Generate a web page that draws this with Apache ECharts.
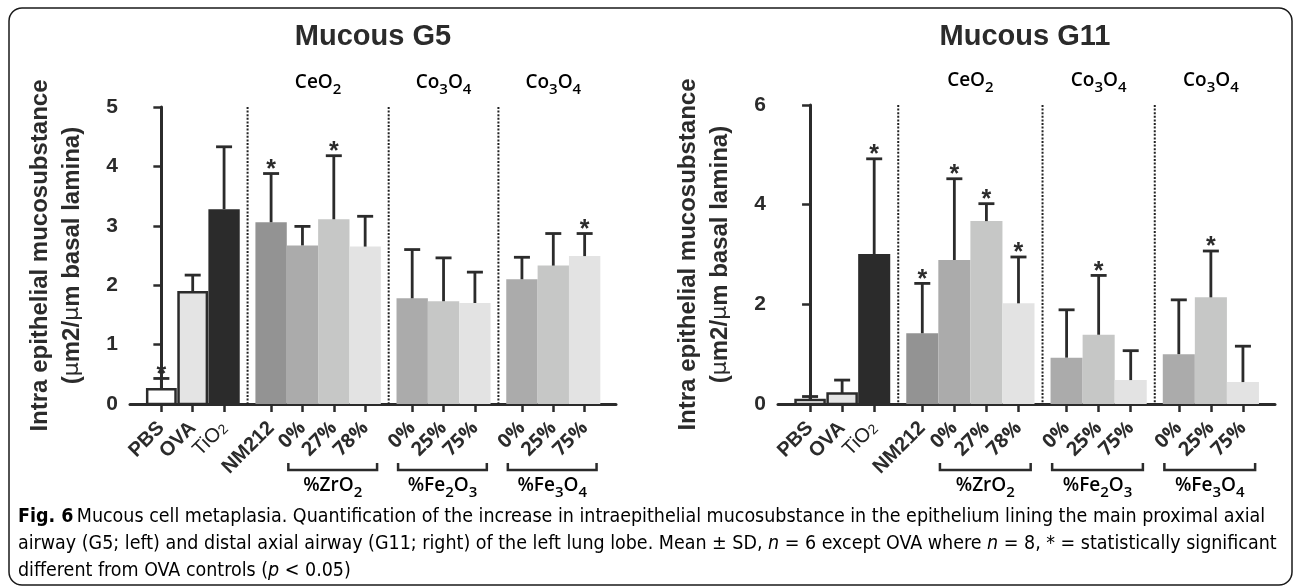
<!DOCTYPE html>
<html><head><meta charset="utf-8">
<script src="https://cdn.jsdelivr.net/npm/echarts@6/dist/echarts.min.js"></script>
<style>html,body{margin:0;padding:0;background:#fff}#c{width:1295px;height:588px}</style>
</head><body><div id="c"></div>
<script>
// ---------------- data ----------------
const labels = ['PBS','OVA','TiO2','NM212','0%','27%','78%','0%','25%','75%','0%','25%','75%'];
const groupSizes = [3, 4, 3, 3];
const groupTop = ['', 'CeO2', 'Co3O4', 'Co3O4'];
const brackets = [ {label:'%ZrO2', from:4, to:6}, {label:'%Fe2O3', from:7, to:9}, {label:'%Fe3O4', from:10, to:12} ];
const g5Mean  = [0.25, 1.88, 3.28, 3.06, 2.67, 3.11, 2.65, 1.78, 1.73, 1.70, 2.10, 2.33, 2.49];
const g5SD    = [0.18, 0.29, 1.05, 0.82, 0.32, 1.07, 0.51, 0.82, 0.73, 0.52, 0.37, 0.54, 0.38];
const g5Star  = [1,0,0,1,0,1,0,0,0,0,0,0,1];
const g11Mean = [0.08, 0.21, 3.01, 1.42, 2.89, 3.67, 2.02, 0.93, 1.39, 0.48, 1.00, 2.14, 0.44];
const g11SD   = [0.07, 0.27, 1.91, 1.00, 1.63, 0.35, 0.93, 0.96, 1.19, 0.59, 1.09, 0.93, 0.72];
const g11Star = [0,0,1,1,1,1,1,0,1,0,0,1,0];
const g5Ticks = [0, 1, 2, 3, 4, 5];
const g11Ticks = [0, 2, 4, 6];
// ---------------- styles ----------------
const fills = ['#ffffff','#e4e4e4','#2b2b2b','#939393','#ababab','#c6c7c6','#e3e3e3','#ababab','#c6c7c6','#e3e3e3','#ababab','#c6c7c6','#e3e3e3'];
const outlined = [1,1,0,0,0,0,0,0,0,0,0,0,0];
const DARK = '#2b2b2b';

// layout derived from group structure: half-slot gap between groups
const positions = [];
const groupCenters = [];
const separators = [];
(function(){
  let k = 0;
  groupSizes.forEach((n, g) => {
    const ps = [];
    for (let j = 0; j < n; j++) { ps.push(k + 0.5 * g); k++; }
    positions.push(...ps);
    groupCenters.push((ps[0] + ps[ps.length-1]) / 2);
    if (g < groupSizes.length - 1) separators.push(ps[ps.length-1] + 0.75);
  });
})();

function chem(str, m, s) {
  return str.replace(/(\d+)|(\D+)/g, (all, d, t) => d ? '{' + s + '|' + d + '}' : '{' + m + '|' + t + '}');
}
function xLabel(v) {
  let i = positions.findIndex(p => Math.abs(p - v) < 1e-6);
  if (i < 0) return '';
  const l = labels[i];
  if (l === 'TiO2') return '{t|TiO}{ts|2}';
  if (l.endsWith('%')) return '{p|' + l + '}';
  return '{b|' + l + '}';
}
const xRich = {
  b: {fontFamily:'Liberation Sans', fontWeight:'bold', fontSize:20, color:DARK},
  t: {fontFamily:'Liberation Sans', fontWeight:'normal', fontSize:20, color:'#222'},
  ts:{fontFamily:'Liberation Sans', fontWeight:'normal', fontSize:14, color:'#222', verticalAlign:'bottom'},
  p: {fontFamily:'Open Sans', fontWeight:'bold', fontSize:19.5, color:DARK}
};
const chemRich = {
  m: {fontFamily:'Open Sans', fontWeight:600, fontSize:19, color:DARK, lineHeight:28, verticalAlign:'middle'},
  s: {fontFamily:'Open Sans', fontWeight:600, fontSize:15, color:DARK, lineHeight:14, verticalAlign:'bottom'}
};

function barRender(params, api) {
  const x = api.value(0), m = api.value(1), sd = api.value(2), star = api.value(3), i = api.value(4);
  const p0 = api.coord([x - 0.5, 0]);
  const p1 = api.coord([x + 0.5, m]);
  const top = api.coord([x, m + sd]);
  const o = outlined[i];
  const ch = [];
  ch.push({type:'rect', shape:{x:p0[0] + (o?1.5:0), y:p1[1], width:p1[0]-p0[0]-(o?3:0), height:p0[1]-p1[1]},
           style:{fill:fills[i], stroke:o?DARK:null, lineWidth:o?2.5:0}});
  ch.push({type:'line', shape:{x1:top[0], y1:p1[1], x2:top[0], y2:top[1]}, style:{stroke:DARK, lineWidth:2.8}});
  ch.push({type:'line', shape:{x1:top[0]-8, y1:top[1], x2:top[0]+8, y2:top[1]}, style:{stroke:DARK, lineWidth:2.8}});
  if (star) ch.push({type:'text', x:top[0], y:top[1] + 9, style:{text:'*', font:'bold 25px "Liberation Sans"', fill:DARK, align:'center', verticalAlign:'bottom'}});
  return {type:'group', children:ch};
}
function sepRender(params, api) {
  const a = api.coord([api.value(0), api.value(1)]);
  const b = api.coord([api.value(0), 0]);
  return {type:'line', shape:{x1:a[0], y1:a[1], x2:b[0], y2:b[1]}, style:{stroke:'#222', lineWidth:2, lineDash:[2,1.6]}};
}
function annRender(params, api) {
  const g = api.value(0);
  const c = api.coord([api.value(1), 0]);
  const top = api.coord([api.value(1), api.value(4)]);
  const b0 = api.coord([api.value(2), 0]);
  const b1 = api.coord([api.value(3), 0]);
  const y0 = c[1];
  const ch = [];
  ch.push({type:'text', x:c[0], y:top[1] - 24, style:{text:chem(groupTop[g], 'm', 's'), rich:chemRich, align:'center', verticalAlign:'middle'}});
  ch.push({type:'polyline', shape:{points:[[b0[0], y0+59],[b0[0], y0+66],[b1[0], y0+66],[b1[0], y0+59]]}, style:{stroke:DARK, lineWidth:2.5, fill:null}});
  const br = brackets[g-1];
  ch.push({type:'text', x:(b0[0]+b1[0])/2, y:y0+82, style:{text:chem(br.label, 'm', 's'), rich:chemRich, align:'center', verticalAlign:'middle'}});
  return {type:'group', children:ch};
}

function xAxisCfg(gi) {
  return {gridIndex:gi, type:'value', min:-1, max:14.5, splitLine:{show:false},
    axisLine:{show:true, onZero:false, lineStyle:{color:DARK, width:3}},
    axisTick:{show:true, customValues:positions, length:8, lineStyle:{color:DARK, width:2.5}},
    axisLabel:{show:true, customValues:positions, rotate:45, margin:21, hideOverlap:false, formatter:xLabel, rich:xRich,
      color:DARK, fontFamily:'Liberation Sans', fontWeight:'bold', fontSize:20}};
}
const yName = '{n|Intra epithelial mucosubstance}\n{n|(}{u|\u03bc}{n|m2/}{u|\u03bc}{n|m basal lamina)}';
function yAxisCfg(gi, ticks) {
  return {gridIndex:gi, type:'value', min:ticks[0], max:ticks[ticks.length-1], interval:ticks[1]-ticks[0],
    splitLine:{show:false},
    axisLine:{show:true, lineStyle:{color:DARK, width:3}},
    axisTick:{show:true, length:8, lineStyle:{color:DARK, width:2.5}},
    axisLabel:{show:true, margin:12, fontFamily:'Liberation Sans', fontWeight:'bold', fontSize:21, color:DARK},
    name:yName, nameLocation:'middle', nameRotate:90, nameGap:42,
    nameTextStyle:{rich:{n:{fontFamily:'Liberation Sans', fontWeight:'bold', fontSize:24, color:DARK, lineHeight:32},
                         u:{fontFamily:'DejaVu Sans', fontWeight:'normal', fontSize:22, color:DARK, lineHeight:32}}}};
}

const annData = (yMax) => [1,2,3].map(g => {
  const br = brackets[g-1];
  return [g, groupCenters[g], positions[br.from] - 0.45, positions[br.to] + 0.38, yMax];
});

// caption font fitting
const capFamily = '"Liberation Sans Narrow", "DejaVu Sans Condensed", sans-serif';
const cap1 = 'Fig. 6 Mucous cell metaplasia. Quantification of the increase in intraepithelial mucosubstance in the epithelium lining the main proximal axial';
const ctx = document.createElement('canvas').getContext('2d');
ctx.font = '18px ' + capFamily;
let capSize = 18 * 1242 / ctx.measureText(cap1).width;
capSize = Math.max(13, Math.min(22, capSize));
const capRich = {
  r: {fontFamily:capFamily, fontSize:capSize, color:'#3a3a3a'},
  b: {fontFamily:capFamily, fontSize:capSize, fontWeight:'bold', color:'#222'},
  i: {fontFamily:capFamily, fontSize:capSize, fontStyle:'italic', color:'#3a3a3a'}
};

const chart = echarts.init(document.getElementById('c'), null, {renderer:'canvas'});
chart.setOption({
  animation:false,
  backgroundColor:'#fff',
  grid:[{left:130, right:679, top:107, bottom:184}, {left:778, right:20, top:105, bottom:184}],
  xAxis:[xAxisCfg(0), xAxisCfg(1)],
  yAxis:[yAxisCfg(0, g5Ticks), yAxisCfg(1, g11Ticks)],
  series:[
    {type:'custom', xAxisIndex:0, yAxisIndex:0, clip:false, renderItem:sepRender, data:separators.map(s => [s, g5Ticks[g5Ticks.length-1]])},
    {type:'custom', xAxisIndex:1, yAxisIndex:1, clip:false, renderItem:sepRender, data:separators.map(s => [s, g11Ticks[g11Ticks.length-1]])},
    {type:'custom', xAxisIndex:0, yAxisIndex:0, clip:false, renderItem:barRender, data:labels.map((l,i) => [positions[i], g5Mean[i], g5SD[i], g5Star[i], i])},
    {type:'custom', xAxisIndex:1, yAxisIndex:1, clip:false, renderItem:barRender, data:labels.map((l,i) => [positions[i], g11Mean[i], g11SD[i], g11Star[i], i])},
    {type:'custom', xAxisIndex:0, yAxisIndex:0, clip:false, renderItem:annRender, data:annData(g5Ticks[g5Ticks.length-1])},
    {type:'custom', xAxisIndex:1, yAxisIndex:1, clip:false, renderItem:annRender, data:annData(g11Ticks[g11Ticks.length-1])}
  ],
  graphic:[
    {type:'rect', shape:{x:9, y:8, width:1283, height:577, r:13}, style:{fill:null, stroke:'#1a1a1a', lineWidth:1.5}, z:0},
    {type:'text', x:373, y:37, style:{text:'Mucous G5', font:'bold 29px "Liberation Sans"', fill:DARK, align:'center', verticalAlign:'middle'}},
    {type:'text', x:1025, y:37, style:{text:'Mucous G11', font:'bold 29px "Liberation Sans"', fill:DARK, align:'center', verticalAlign:'middle'}},
    {type:'text', x:18, y:517, style:{text:'{b|Fig. 6} {r|Mucous cell metaplasia. Quantification of the increase in intraepithelial mucosubstance in the epithelium lining the main proximal axial}', rich:capRich, verticalAlign:'middle'}},
    {type:'text', x:18, y:544, style:{text:'{r|airway (G5; left) and distal axial airway (G11; right) of the left lung lobe. Mean \u00b1 SD, }{i|n}{r| = 6 except OVA where }{i|n}{r| = 8, * = statistically significant}', rich:capRich, verticalAlign:'middle'}},
    {type:'text', x:18, y:571, style:{text:'{r|different from OVA controls (}{i|p}{r| < 0.05)}', rich:capRich, verticalAlign:'middle'}}
  ]
});
</script>
</body></html>
